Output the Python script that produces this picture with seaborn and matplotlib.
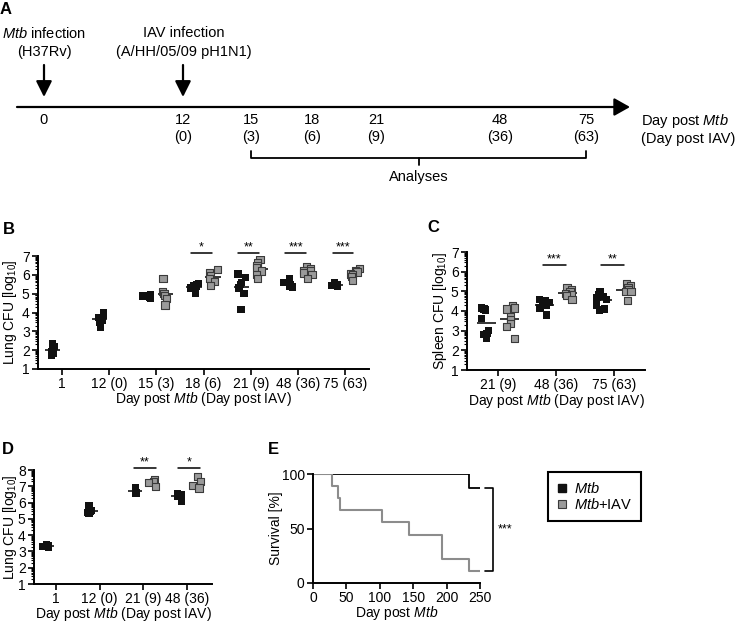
import numpy as np
import pandas as pd
import matplotlib
matplotlib.use("Agg")
import matplotlib.pyplot as plt
import seaborn as sns
from matplotlib.lines import Line2D

np.random.seed(0)

# ---------------- data ----------------
groups = ["Mtb", "Mtb+IAV"]

# Panel A timeline
a_days_mtb = [0, 12, 15, 18, 21, 48, 75]
a_days_iav = [None, 0, 3, 6, 9, 36, 63]

# Panel B: lung CFU (log10)
b_days = ["1", "12 (0)", "15 (3)", "18 (6)", "21 (9)", "48 (36)", "75 (63)"]
b_mtb = [
    [2.35, 2.2, 2.05, 2.0, 1.9, 1.85, 1.7],
    [4.0, 3.85, 3.75, 3.6, 3.5, 3.2],
    [4.95, 4.9, 4.85, 4.85, 4.8, 4.9, 4.75],
    [5.55, 5.5, 5.45, 5.4, 5.3, 5.0],
    [6.05, 5.85, 5.6, 5.5, 5.3, 5.0, 4.15],
    [5.8, 5.6, 5.5, 5.45, 5.4, 5.35, 5.5],
    [5.6, 5.5, 5.45, 5.45, 5.4, 5.5],
]
b_iav = [
    [],
    [],
    [5.8, 5.1, 5.0, 4.9, 4.75, 4.4],
    [6.3, 6.1, 5.95, 5.8, 5.65, 5.45],
    [6.8, 6.65, 6.5, 6.4, 6.2, 6.0, 5.8],
    [6.45, 6.35, 6.25, 6.2, 6.1, 6.0, 5.8],
    [6.35, 6.25, 6.15, 6.05, 6.0, 5.9, 5.7],
]
b_sig_days = ["18 (6)", "21 (9)", "48 (36)", "75 (63)"]
b_sig_text = ["*", "**", "***", "***"]

# Panel C: spleen CFU (log10)
c_days = ["21 (9)", "48 (36)", "75 (63)"]
c_mtb = [
    [4.15, 4.1, 4.05, 3.6, 3.0, 2.85, 2.8, 2.6],
    [4.6, 4.55, 4.45, 4.35, 4.3, 4.15, 3.8],
    [5.0, 4.85, 4.75, 4.7, 4.6, 4.3, 4.1, 4.05],
]
c_iav = [
    [4.25, 4.15, 4.1, 3.7, 3.55, 3.35, 3.2, 2.6],
    [5.2, 5.1, 5.0, 4.9, 4.85, 4.8, 4.6],
    [5.4, 5.3, 5.2, 5.1, 5.0, 5.0, 4.55],
]
c_sig_days = ["48 (36)", "75 (63)"]
c_sig_text = ["***", "**"]

# Panel D: lung CFU (log10), second experiment
d_days = ["1", "12 (0)", "21 (9)", "48 (36)"]
d_mtb = [
    [3.4, 3.35, 3.3, 3.3, 3.25],
    [5.8, 5.5, 5.45, 5.4, 5.35],
    [6.9, 6.8, 6.7, 6.6, 6.55],
    [6.55, 6.5, 6.45, 6.35, 6.1],
]
d_iav = [
    [],
    [],
    [7.4, 7.3, 7.25, 7.0],
    [7.6, 7.3, 7.05, 6.9],
]
d_sig_days = ["21 (9)", "48 (36)"]
d_sig_text = ["**", "*"]

# Panel E: survival
e_mtb_t = [0, 233, 250]
e_mtb_s = [100, 87.5, 87.5]
e_iav_t = [0, 28, 37, 41, 104, 143, 193, 233, 250]
e_iav_s = [100, 88.9, 77.8, 66.7, 55.6, 44.4, 22.2, 11.1, 11.1]

# ---------------- style ----------------
sns.set_theme(style="ticks")
plt.rcParams["font.family"] = ["Liberation Sans", "DejaVu Sans"]
plt.rcParams["mathtext.fontset"] = "custom"
plt.rcParams["mathtext.rm"] = "Liberation Sans"
plt.rcParams["mathtext.it"] = "Liberation Sans:italic"
plt.rcParams["mathtext.bf"] = "Liberation Sans:bold"
plt.rcParams["axes.edgecolor"] = "black"
plt.rcParams["xtick.color"] = "black"
plt.rcParams["ytick.color"] = "black"
plt.rcParams["text.color"] = "black"
plt.rcParams["axes.labelcolor"] = "black"

BLACK = "#111111"
GRAY = "#9a9a9a"
EDGE = "#3a3a3a"
pal = {"Mtb": BLACK, "Mtb+IAV": GRAY}

W, H = 738, 631
fig = plt.figure(figsize=(W / 100, H / 100), dpi=100)


def px_axes(left, top, right, bottom):
    return fig.add_axes([left / W, 1 - bottom / H, (right - left) / W, (bottom - top) / H])


def style_axes(ax, fs=10):
    for s in ["top", "right"]:
        ax.spines[s].set_visible(False)
    for s in ["left", "bottom"]:
        ax.spines[s].set_linewidth(1.4)
    ax.tick_params(axis="both", which="major", direction="out", length=4, width=1.2,
                   labelsize=fs, pad=2)
    ax.tick_params(axis="y", which="minor", direction="out", length=2.2, width=0.8)


def place_labels(ax, xlabel, ylabel, xlab_y, ylab_x):
    ax.set_xlabel(xlabel, fontsize=10)
    ax.set_ylabel(ylabel, fontsize=10)
    ax.xaxis.label.set_verticalalignment("center")
    ax.yaxis.label.set_verticalalignment("center")
    ax.xaxis.set_label_coords(0.5, xlab_y)
    ax.yaxis.set_label_coords(ylab_x, 0.5)


def scatter_panel(ax, cats, mtb, iav, ylim, yticks, sig_days, sig_text, sig_y,
                  bar_lo, bar_hi, xlim, ylabel, ylab_x, xlab_y):
    rows = []
    for c, vals in zip(cats, mtb):
        rows += [(c, "Mtb", v) for v in vals]
    for c, vals in zip(cats, iav):
        rows += [(c, "Mtb+IAV", v) for v in vals]
    df = pd.DataFrame(rows, columns=["day", "group", "cfu"])

    # mean lines
    for gi, g in enumerate(groups):
        means = df[df.group == g].groupby("day", sort=False)["cfu"].mean()
        off = -0.2 if gi == 0 else 0.2
        for c, m in means.items():
            i = cats.index(c)
            ax.hlines(m, i + off - 0.16, i + off + 0.16, color="black", lw=1.1, zorder=1)

    sns.stripplot(data=df[df.group == "Mtb"], x="day", y="cfu", hue="group",
                  order=cats, hue_order=groups, palette=pal, dodge=True, jitter=0.2,
                  marker="s", size=5.2, linewidth=0, legend=False, ax=ax, zorder=3)
    sns.stripplot(data=df[df.group == "Mtb+IAV"], x="day", y="cfu", hue="group",
                  order=cats, hue_order=groups, palette=pal, dodge=True, jitter=0.2,
                  marker="s", size=5.2, linewidth=0.8, edgecolor=EDGE, legend=False,
                  ax=ax, zorder=3)

    ax.set_xlim(*xlim)
    ax.set_ylim(*ylim)
    ax.set_yticks(yticks)
    minor = [n + np.log10(k) for n in range(int(ylim[0]), int(ylim[1])) for k in range(2, 10)]
    ax.set_yticks(minor, minor=True)
    style_axes(ax)
    place_labels(ax, "Day post $\\mathit{Mtb}$ (Day post IAV)", ylabel, xlab_y, ylab_x)

    for c, t in zip(sig_days, sig_text):
        i = cats.index(c)
        ax.plot([i + bar_lo, i + bar_hi], [sig_y, sig_y], color="black", lw=1.1, clip_on=False)
        ax.text(i + (bar_lo + bar_hi) / 2, sig_y, t, ha="center", va="bottom", fontsize=9,
                clip_on=False)


# ---------------- Panel B ----------------
axB = px_axes(38, 256, 369, 369)
scatter_panel(axB, b_days, b_mtb, b_iav, (1, 7), range(1, 8), b_sig_days, b_sig_text,
              7.15, -0.27, 0.17, (-0.5, 6.5), "Lung CFU [log$_{10}$]", -0.085, -0.268)

# ---------------- Panel C ----------------
axC = px_axes(467, 252, 645, 370)
scatter_panel(axC, c_days, c_mtb, c_iav, (1, 7), range(1, 8), c_sig_days, c_sig_text,
              6.33, -0.22, 0.17, (-0.53, 2.53), "Spleen CFU [log$_{10}$]", -0.152, -0.266)

# ---------------- Panel D ----------------
axD = px_axes(34, 470, 212, 584)
scatter_panel(axD, d_days, d_mtb, d_iav, (1, 8), range(1, 9), d_sig_days, d_sig_text,
              8.1, -0.21, 0.29, (-0.5, 3.57), "Lung CFU [log$_{10}$]", -0.137, -0.265)

# ---------------- Panel E ----------------
axE = px_axes(313, 474, 480, 583)
sns.lineplot(x=e_mtb_t, y=e_mtb_s, drawstyle="steps-post", color="black", lw=1.3,
             estimator=None, ax=axE)
sns.lineplot(x=e_iav_t, y=e_iav_s, drawstyle="steps-post", color="#8c8c8c", lw=1.5,
             estimator=None, ax=axE)
axE.set_xlim(0, 250)
axE.set_ylim(0, 100)
axE.set_xticks([0, 50, 100, 150, 200, 250])
axE.set_yticks([0, 50, 100])
style_axes(axE)
place_labels(axE, "Day post $\\mathit{Mtb}$", "Survival [%]", -0.275, -0.222)
# significance bracket
yb_top, yb_bot = e_mtb_s[-1], e_iav_s[-1]
axE.plot([258, 269, 269, 258], [yb_top, yb_top, yb_bot, yb_bot], color="black", lw=1.2,
         clip_on=False)
axE.text(276, (yb_top + yb_bot) / 2, "***", ha="left", va="center", fontsize=9, clip_on=False)

# legend
handles = [Line2D([], [], ls="none", marker="s", markersize=5.5, markerfacecolor=BLACK,
                  markeredgecolor=BLACK),
           Line2D([], [], ls="none", marker="s", markersize=5.5, markerfacecolor=GRAY,
                  markeredgecolor=EDGE, markeredgewidth=0.8)]
leg = fig.legend(handles, ["$\\mathit{Mtb}$", "$\\mathit{Mtb}$+IAV"], loc="upper left",
                 bbox_to_anchor=(548 / W, 1 - 472 / H), frameon=True, fancybox=False,
                 edgecolor="black", framealpha=1, fontsize=10.5, handlelength=0.7,
                 handletextpad=0.5, labelspacing=0.1, borderpad=0.6, borderaxespad=0)
leg.get_frame().set_linewidth(1.5)

# ---------------- Overlay: Panel A and letters ----------------
ov = fig.add_axes([0, 0, 1, 1], zorder=-1)
ov.set_xlim(0, W)
ov.set_ylim(H, 0)
ov.axis("off")

a_xpos = [44, 183, 251, 312, 376, 500, 586]  # schematic layout positions
line_y = 107
ov.annotate("", xy=(630, line_y), xytext=(17, line_y),
            arrowprops=dict(arrowstyle="-|>,head_length=0.8,head_width=0.45", lw=1.6,
                            color="black", shrinkA=0, shrinkB=0))
for xi in (a_xpos[0], a_xpos[1]):
    ov.annotate("", xy=(xi, 97), xytext=(xi, 65),
                arrowprops=dict(arrowstyle="-|>,head_length=0.8,head_width=0.4", lw=1.6,
                                color="black", shrinkA=0, shrinkB=0))
fsA = 10.5
ov.text(44, 33, "$\\mathit{Mtb}$ infection", ha="center", va="center", fontsize=fsA)
ov.text(44, 52, "(H37Rv)", ha="center", va="center", fontsize=fsA)
ov.text(184, 33, "IAV infection", ha="center", va="center", fontsize=fsA)
ov.text(184, 52, "(A/HH/05/09 pH1N1)", ha="center", va="center", fontsize=fsA)
for xp, dm, di in zip(a_xpos, a_days_mtb, a_days_iav):
    ov.text(xp, 119.5, str(dm), ha="center", va="center", fontsize=fsA)
    if di is not None:
        ov.text(xp, 137.5, f"({di})", ha="center", va="center", fontsize=fsA)
ov.text(641, 120.5, "Day post $\\mathit{Mtb}$", ha="left", va="center", fontsize=fsA)
ov.text(641, 138.5, "(Day post IAV)", ha="left", va="center", fontsize=fsA)
bl, br = a_xpos[2], a_xpos[6]
ov.plot([bl, bl, br, br], [151, 157.5, 157.5, 151], color="black", lw=1.3)
bm = (bl + br) / 2
ov.plot([bm, bm], [157.5, 164.5], color="black", lw=1.3)
ov.text(bm, 177, "Analyses", ha="center", va="center", fontsize=fsA)

for lab, x, y in [("A", 0, 9), ("B", 3, 229), ("C", 427, 228), ("D", 2, 449), ("E", 268, 449)]:
    ov.text(x, y, lab, ha="left", va="center", fontsize=12, fontweight="bold")

fig.savefig("out.png", dpi=100)
